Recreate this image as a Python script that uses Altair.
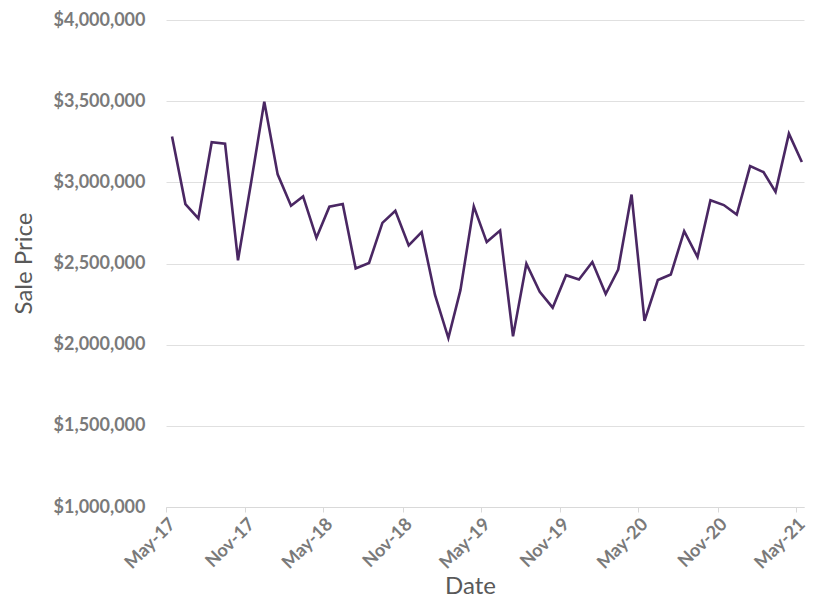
import altair as alt
import pandas as pd

# Monthly sale dates (mid-month), May 2017 - May 2021
months = []
for y in range(2017, 2022):
    for m in range(1, 13):
        if (y == 2017 and m < 5) or (y == 2021 and m > 5):
            continue
        months.append(f"{y}-{m:02d}-15")

sale_price = [
    3283000, 2866000, 2778000, 3247000, 3238000, 2520000, 3008000, 3497000,
    3049000, 2856000, 2913000, 2658000, 2850000, 2866000, 2469000, 2503000,
    2750000, 2825000, 2611000, 2693000, 2306000, 2041000, 2336000, 2852000,
    2632000, 2703000, 2051000, 2499000, 2326000, 2228000, 2428000, 2401000,
    2509000, 2312000, 2463000, 2925000, 2147000, 2398000, 2432000, 2699000,
    2540000, 2890000, 2860000, 2801000, 3100000, 3063000, 2941000, 3300000,
    3125000,
]

y_ticks = [1000000, 1500000, 2000000, 2500000, 3000000, 3500000, 4000000]
x_tick_years_months = [(2017, 5), (2017, 11), (2018, 5), (2018, 11), (2019, 5),
                       (2019, 11), (2020, 5), (2020, 11), (2021, 5)]

df = pd.DataFrame({"Date": months, "Sale Price": sale_price})

label_color = "#7a7a7a"
title_color = "#595959"
grid_color = "#e0e0e0"
font = "Lato"

x_values = [alt.DateTime(year=y, month=m, date=1, utc=True) for y, m in x_tick_years_months]

chart = alt.Chart(df).mark_line(color="#4a2763", strokeWidth=2.6).encode(
    x=alt.X(
        "Date:T",
        scale=alt.Scale(
            type="utc",
            domain=[alt.DateTime(year=2017, month=5, date=1, utc=True),
                    alt.DateTime(year=2021, month=5, date=20, utc=True)],
        ),
        axis=alt.Axis(
            title="Date",
            values=x_values,
            labelExpr="utcFormat(datum.value, '%b-%y')",
            grid=False,
            domainColor="#d9d9d9",
            tickColor="#d9d9d9",
            tickSize=5,
            labelAngle=-45,
            labelAlign="right",
            labelBaseline="top",
            labelPadding=3,
            labelFont=font,
            labelFontSize=18,
            labelFontWeight="bold",
            labelColor=label_color,
            titleFont=font,
            titleFontSize=24,
            titleFontWeight="normal",
            titleColor=title_color,
            titleX=304,
            titleY=86,
            titleAlign="center",
            titleBaseline="alphabetic",
        ),
    ),
    y=alt.Y(
        "Sale Price:Q",
        scale=alt.Scale(domain=[1000000, 4000000], nice=False, zero=False),
        axis=alt.Axis(
            title="Sale Price",
            values=y_ticks,
            format="$,.0f",
            domain=False,
            ticks=False,
            gridColor=grid_color,
            gridWidth=1,
            labelPadding=21,
            labelFont=font,
            labelFontSize=18,
            labelFontWeight="bold",
            labelColor=label_color,
            titleFont=font,
            titleFontSize=24,
            titleFontWeight="normal",
            titleColor=title_color,
            titleAngle=-90,
            titleX=-142,
            titleY=243,
            titleAlign="center",
            titleBaseline="middle",
        ),
    ),
).properties(
    width=638,
    height=487,
    autosize="none",
    padding={"left": 158, "top": 12, "right": 9, "bottom": 92},
).configure_view(stroke=None)

chart.save("out.html", embed_options={"renderer": "svg", "actions": False})
